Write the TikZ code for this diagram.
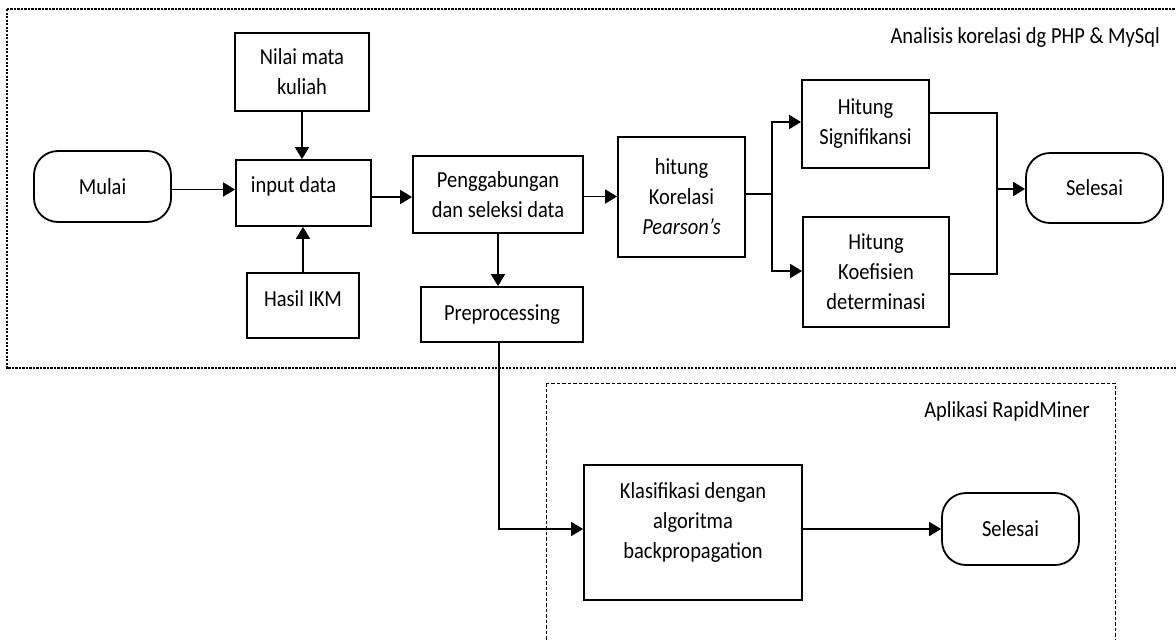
\documentclass[tikz,border=0pt]{standalone}
\usepackage{fontspec}
\setmainfont{Carlito}[FakeStretch=0.89]
\usetikzlibrary{arrows.meta,calc}
\tikzset{
  txt/.style={font=\fontsize{23}{30}\selectfont,inner sep=0pt,align=center},
  box/.style={draw,line width=1.8pt,inner sep=0pt,align=center,font=\fontsize{23}{30}\selectfont},
  term/.style={box,rounded corners=24pt},
  arr/.style={line width=1.8pt,-{Triangle[length=12pt,width=14pt]}},
  ln/.style={line width=1.8pt},
  grpA/.style={line width=1.2pt,dash pattern=on 2.2pt off 1.3pt},
  grpB/.style={line width=1pt,dash pattern=on 3.5pt off 2pt},
  grptitle/.style={font=\fontsize{23}{30}\selectfont,inner sep=0pt}
}
\begin{document}
\begin{tikzpicture}[x=1pt,y=-1pt]
\useasboundingbox (0,0) rectangle (1176,640);
% groups
\draw[grpA] (7,9) rectangle (1182,368);
\draw[grpB] (546.5,383) rectangle (1115,660);
\node[grptitle,anchor=east] (tA) at (1160,37) {Analisis korelasi dg PHP \& MySql};
\node[grptitle,anchor=east] (tB) at (1090,411) {Aplikasi RapidMiner};
% nodes
\node[term,minimum width=137pt,minimum height=71pt] (mulai) at (102.5,186.5) {Mulai};
\node[box,minimum width=135pt,minimum height=66pt,
  label={[txt,xshift=-10pt,yshift=7pt]center:input data}] (input) at (303.5,193) {};
\node[box,minimum width=134pt,minimum height=78pt] (nilai) at (302,72) {Nilai mata\\kuliah};
\node[box,minimum width=112pt,minimum height=65pt,
  label={[txt,yshift=7pt]center:Hasil IKM}] (hasil) at (303,305.5) {};
\node[box,minimum width=170pt,minimum height=77pt] (peng) at (498,194.5) {Penggabungan\\dan seleksi data};
\node[box,minimum width=162pt,minimum height=55pt] (prep) at (502,314.5) {Preprocessing};
\node[box,minimum width=127pt,minimum height=120pt] (hitung) at (681.5,197) {hitung\\Korelasi\\\textit{Pearson’s}};
\node[box,minimum width=127pt,minimum height=88pt] (sig) at (865.5,124) {Hitung\\Signifikansi};
\node[box,minimum width=146pt,minimum height=110pt] (koef) at (876,272) {Hitung\\Koefisien\\determinasi};
\node[term,minimum width=137pt,minimum height=70pt] (sel1) at (1094.5,188) {Selesai};
\node[box,minimum width=218pt,minimum height=135pt,
  label={[txt,yshift=10pt]center:Klasifikasi dengan\\algoritma\\backpropagation}] (klas) at (693,532.5) {};
\node[term,minimum width=137pt,minimum height=72pt] (sel2) at (1010.5,529) {Selesai};
% connectors
\draw[arr] ([yshift=-3pt]mulai.east) -- ([yshift=-3pt]mulai.east -| input.west);
\draw[arr] (nilai.south) -- (nilai.south |- input.north);
\draw[arr] (hasil.north) -- (hasil.north |- input.south);
\draw[arr] ([yshift=-4pt]input.east) -- ([yshift=-4pt]input.east -| peng.west);
\draw[arr] ([yshift=-2pt]peng.east) -- ([yshift=-2pt]peng.east -| hitung.west);
\draw[arr] (peng.south) -- (peng.south |- prep.north);
\coordinate (sp) at (772,194);
\draw[ln] ([yshift=3pt]hitung.east) -- (sp);
\draw[arr] (sp) |- ([yshift=2pt]sig.west);
\draw[arr] (sp) |- ([yshift=1pt]koef.west);
\coordinate (jn) at (997,189);
\draw[ln] ([yshift=11pt]sig.east) -| (jn);
\draw[ln] ([yshift=-2pt]koef.east) -| (jn);
\draw[arr] (jn) -- (jn -| sel1.west);
\draw[arr] ([xshift=-3pt]prep.south) |- ([yshift=3.5pt]klas.west);
\draw[arr] ([yshift=3.5pt]klas.east) -- ([yshift=3.5pt]klas.east -| sel2.west);
\end{tikzpicture}
\end{document}
